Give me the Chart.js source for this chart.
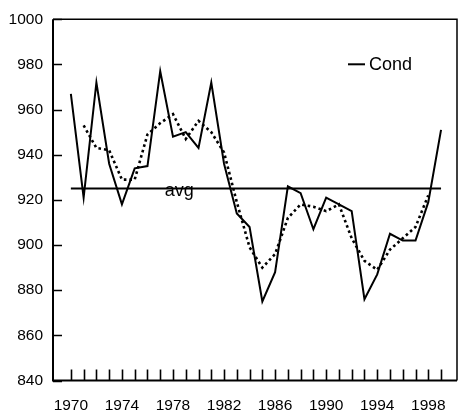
<!DOCTYPE html>
<html>
<head>
<meta charset="utf-8">
<script src="https://cdn.jsdelivr.net/npm/chart.js@4"></script>
<style>
html,body{margin:0;padding:0;background:#fff;}
#wrap{width:459px;height:416px;position:relative;}
</style>
</head>
<body>
<div id="wrap"><canvas id="c" width="459" height="416"></canvas></div>
<script>
const years = [1970,1971,1972,1973,1974,1975,1976,1977,1978,1979,1980,1981,1982,1983,1984,1985,1986,1987,1988,1989,1990,1991,1992,1993,1994,1995,1996,1997,1998,1999];
const cond = [967,921,972,936,918,934,935,977,948,950,943,972,936,914,908,875,888,926,923,907,921,918,915,876,887,905,902,902,919,951];
const smoothYears = [1971,1972,1973,1974,1975,1976,1977,1978,1979,1980,1981,1982,1983,1984,1985,1986,1987,1988,1989,1990,1991,1992,1993,1994,1995,1996,1997,1998];
const smooth = [953,943,942,929,929,949,954,958,947,955,950,941,919,899,890,896,912,918,917,915,918,903,893,889,898,903,908,922];
const avgValue = 925;
const avgYears = [1970,1999];
const avgLabel = "avg";
const avgLabelYear = 1978.5;
const legendLabel = "Cond";
const yTicks = [840,860,880,900,920,940,960,980,1000];
const xLabelYears = [1970,1974,1978,1982,1986,1990,1994,1998];

const FONT = "'Liberation Sans', Arial, sans-serif";

const framePlugin = {
  id: 'frame',
  afterDraw(chart) {
    const ctx = chart.ctx, a = chart.chartArea;
    const xs = chart.scales.x, ys = chart.scales.y;
    ctx.save();
    ctx.strokeStyle = '#000';
    ctx.lineCap = 'butt';
    ctx.lineWidth = 1.5;
    ctx.beginPath();
    ctx.moveTo(a.left, a.top); ctx.lineTo(a.right, a.top); ctx.lineTo(a.right, a.bottom);
    ctx.stroke();
    ctx.lineWidth = 2;
    ctx.beginPath();
    ctx.moveTo(a.left, a.top); ctx.lineTo(a.left, a.bottom); ctx.lineTo(a.right, a.bottom);
    ctx.stroke();
    ctx.lineWidth = 1.6;
    ctx.beginPath();
    xs.ticks.forEach(t => {
      const px = Math.round(xs.getPixelForValue(t.value)) + 0.5;
      ctx.moveTo(px, a.bottom); ctx.lineTo(px, a.bottom - 11);
    });
    ys.ticks.forEach(t => {
      const py = Math.round(ys.getPixelForValue(t.value)) + 0.5;
      ctx.moveTo(a.left, py); ctx.lineTo(a.left + 9, py);
    });
    ctx.stroke();
    ctx.fillStyle = '#000';
    ctx.font = '18px ' + FONT;
    ctx.textAlign = 'center';
    ctx.textBaseline = 'alphabetic';
    ctx.fillText(avgLabel, xs.getPixelForValue(avgLabelYear), ys.getPixelForValue(avgValue) + 7.5);
    const lx = a.right - 109, ly = a.top + 45;
    ctx.lineWidth = 2;
    ctx.beginPath();
    ctx.moveTo(lx, ly); ctx.lineTo(lx + 17, ly);
    ctx.stroke();
    ctx.textAlign = 'left';
    ctx.fillText(legendLabel, lx + 21, ly + 6);
    ctx.restore();
  }
};

new Chart(document.getElementById('c'), {
  type: 'line',
  data: {
    datasets: [
      {
        label: legendLabel,
        data: years.map((y, i) => ({x: y, y: cond[i]})),
        borderColor: '#000',
        borderWidth: 2,
        pointRadius: 0,
        tension: 0
      },
      {
        label: 'smooth',
        data: smoothYears.map((y, i) => ({x: y, y: smooth[i]})),
        borderColor: '#000',
        borderWidth: 2.6,
        borderDash: [2.6, 3],
        pointRadius: 0,
        tension: 0
      },
      {
        label: avgLabel,
        data: avgYears.map(y => ({x: y, y: avgValue})),
        borderColor: '#000',
        borderWidth: 2,
        pointRadius: 0,
        tension: 0
      }
    ]
  },
  options: {
    responsive: false,
    animation: false,
    devicePixelRatio: 1,
    layout: {padding: {top: 16, right: 2, left: 0, bottom: 0}},
    plugins: {legend: {display: false}, tooltip: {enabled: false}},
    scales: {
      x: {
        type: 'linear',
        min: 1968.6,
        max: 2000.25,
        border: {display: false},
        grid: {display: false, drawTicks: false},
        afterBuildTicks(s) { s.ticks = years.map(v => ({value: v})); },
        afterFit(s) { s.height = 35.5; },
        ticks: {
          autoSkip: false,
          maxRotation: 0,
          padding: 16,
          color: '#000',
          font: {family: FONT, size: 15.5},
          callback: v => xLabelYears.includes(v) ? String(v) : ''
        }
      },
      y: {
        min: 840,
        max: 1000,
        border: {display: false},
        grid: {display: false, drawTicks: false},
        afterBuildTicks(s) { s.ticks = yTicks.map(v => ({value: v})); },
        afterFit(s) { s.width = 53; },
        ticks: {
          padding: 10,
          color: '#000',
          font: {family: FONT, size: 15.5},
          callback: v => String(v)
        }
      }
    }
  },
  plugins: [framePlugin]
});
</script>
</body>
</html>
